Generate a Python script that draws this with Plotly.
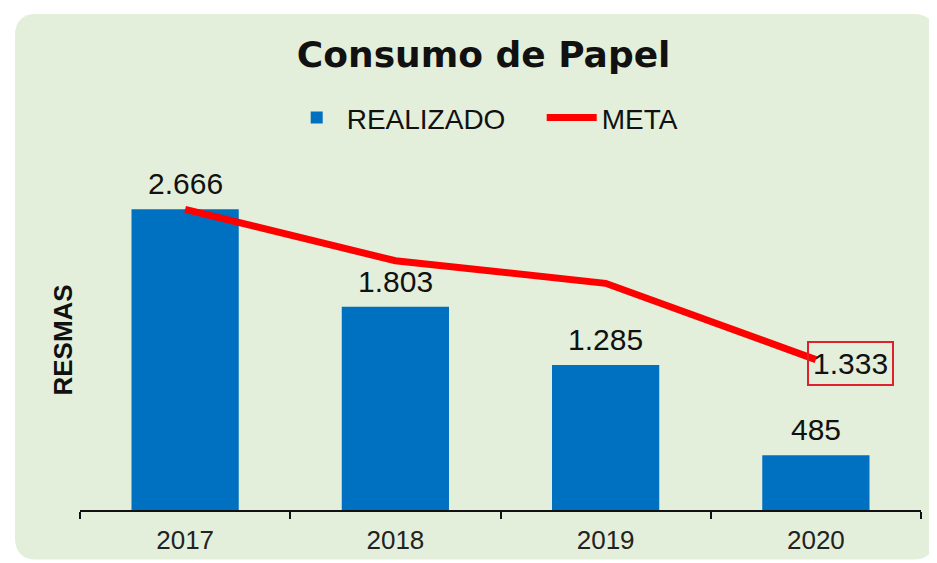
import plotly.graph_objs as go

# chart data
years = ["2017", "2018", "2019", "2020"]
realizado = [2666, 1803, 1285, 485]
meta = [2666, 2210, 2010, 1333]

title = "Consumo de Papel"
y_title = "RESMAS"


def fmt(v):
    # thousands separator as dot, like the original
    return f"{v:,}".replace(",", ".")


fig = go.Figure()
fig.add_trace(
    go.Bar(
        x=years,
        y=realizado,
        name="REALIZADO",
        marker=dict(color="#0070C0", line=dict(width=0)),
        width=0.51,
    )
)
fig.add_trace(
    go.Scatter(
        x=years,
        y=meta,
        name="META",
        mode="lines",
        line=dict(color="#FF0000", width=7),
        cliponaxis=False,
    )
)

annotations = []
# value labels above bars (x given as category index, years look numeric)
for i, v in enumerate(realizado):
    annotations.append(dict(
        x=i, y=v, xref="x", yref="y",
        text=fmt(v), showarrow=False,
        yanchor="bottom", yshift=7,
        font=dict(family="Liberation Sans, Arial", size=30, color="#111111"),
    ))
# last target value in a red box
annotations.append(dict(
    x=len(years) - 1, y=meta[-1], xref="x", yref="y",
    text=fmt(meta[-1]), showarrow=False,
    xanchor="left", yanchor="middle", xshift=-9, yshift=-4,
    bordercolor="#E0202A", borderwidth=2, borderpad=4,
    font=dict(family="Liberation Sans, Arial", size=30, color="#111111"),
))
# y axis title
annotations.append(dict(
    x=-0.020, y=0.462, xref="paper", yref="paper",
    text="<b>" + y_title + "</b>", showarrow=False, textangle=-90,
    xanchor="center", yanchor="middle",
    font=dict(family="Liberation Sans, Arial", size=26, color="#111111"),
))

# rounded light green panel behind the chart (paper coords)
x0, x1 = -0.0773, 1.0166
y0, y1 = -0.1351, 1.3514
rx, ry = 22 / 841, 22 / 370
panel = (
    f"M {x0 + rx},{y1} L {x1 - rx},{y1} Q {x1},{y1} {x1},{y1 - ry} "
    f"L {x1},{y0 + ry} Q {x1},{y0} {x1 - rx},{y0} "
    f"L {x0 + rx},{y0} Q {x0},{y0} {x0},{y0 + ry} "
    f"L {x0},{y1 - ry} Q {x0},{y1} {x0 + rx},{y1} Z"
)

# the page body adds 8px around the figure, so the figure is 8px smaller
fig.update_layout(
    width=929,
    height=555,
    margin=dict(l=72, r=16, t=132, b=53),
    paper_bgcolor="white",
    plot_bgcolor="rgba(0,0,0,0)",
    title=dict(
        text="<b>" + title + "</b>",
        x=0.512, xref="container", xanchor="center",
        y=0.917, yref="container", yanchor="middle",
        font=dict(family="DejaVu Sans, Arial", size=36, color="#111111"),
    ),
    showlegend=True,
    legend=dict(
        orientation="h",
        x=0.30, xref="container", xanchor="left",
        y=0.802, yref="container", yanchor="middle",
        font=dict(family="Liberation Sans, Arial", size=28, color="#111111"),
        bgcolor="rgba(0,0,0,0)",
        itemwidth=50,
        entrywidth=190,
    ),
    xaxis=dict(
        type="category",
        range=[-0.5, 3.5],
        showline=True, linecolor="#111111", linewidth=2,
        ticks="outside", tickson="boundaries", ticklen=7,
        tickcolor="#111111", tickwidth=2,
        ticklabelstandoff=6,
        tickfont=dict(family="Liberation Sans, Arial", size=26, color="#222222"),
        showgrid=False, zeroline=False,
        automargin=False,
    ),
    yaxis=dict(
        range=[0, 3255],
        visible=False,
        showgrid=False, zeroline=False,
    ),
    annotations=annotations,
    shapes=[dict(
        type="path", path=panel, xref="paper", yref="paper",
        fillcolor="#E3EFDA", line=dict(width=0), layer="below",
    )],
    bargap=0.49,
)

fig.write_html("out.html")
